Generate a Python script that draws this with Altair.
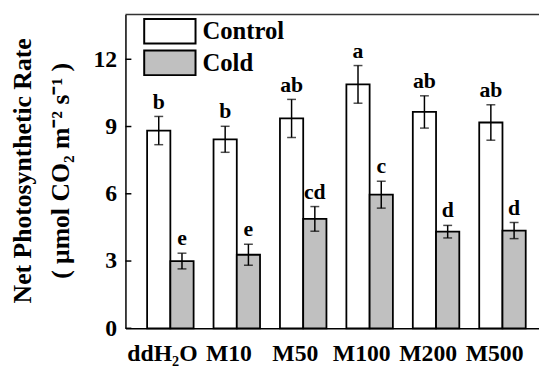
import altair as alt
import pandas as pd

categories = ["ddH₂O", "M10", "M50", "M100", "M200", "M500"]
treatments = ["Control", "Cold"]
control_mean = [8.82, 8.43, 9.36, 10.88, 9.65, 9.18]
control_se = [0.63, 0.58, 0.85, 0.84, 0.72, 0.79]
cold_mean = [3.00, 3.28, 4.88, 5.96, 4.31, 4.36]
cold_se = [0.35, 0.47, 0.55, 0.60, 0.28, 0.36]
control_letters = ["b", "b", "ab", "a", "ab", "ab"]
cold_letters = ["e", "e", "cd", "c", "d", "d"]
y_ticks = [0, 3, 6, 9, 12]
y_max = 14

rows = []
for i, c in enumerate(categories):
    rows.append(dict(cat=c, trt="Control", mean=control_mean[i], se=control_se[i], letter=control_letters[i]))
    rows.append(dict(cat=c, trt="Cold", mean=cold_mean[i], se=cold_se[i], letter=cold_letters[i]))
df = pd.DataFrame(rows)
df["lo"] = df["mean"] - df["se"]
df["hi"] = df["mean"] + df["se"]
caps = pd.concat([df.assign(v=df["lo"]), df.assign(v=df["hi"])])
cat_df = pd.DataFrame({"cat": categories})

FONT = "Liberation Serif"
W, H = 419, 318

xs = alt.Scale(paddingInner=0.3, paddingOuter=0.263, align=0.62)
x_axis = alt.Axis(title=None, labels=False, ticks=False,
                  domainColor="black", domainWidth=1.5, grid=False)
xo = alt.XOffset("trt:N", sort=treatments, scale=alt.Scale(domain=treatments, paddingInner=0, paddingOuter=0))
ys = alt.Scale(domain=[0, y_max], nice=False, zero=True)

y_axis = alt.Axis(values=y_ticks, ticks=False, grid=False, labelPadding=9, labelFont=FONT,
                  labelFontSize=24, labelFontWeight="bold", labelColor="black",
                  domainColor="black", domainWidth=1.5,
                  title=["Net Photosynthetic Rate", "( μmol CO₂ m⁻² s⁻¹ )"],
                  titleFont=FONT, titleFontSize=26, titleFontWeight="bold", titleColor="black",
                  titleAngle=270, titleX=-96, titleY=158, titleAlign="center",
                  titleBaseline="alphabetic", titleLineHeight=38)


def X():
    return alt.X("cat:N", sort=categories, scale=xs)


def Y(field):
    return alt.Y(field, scale=ys)


legend = alt.Legend(title=None, orient="none", legendX=31, legendY=3,
                    symbolType="M-2,-0.96H2V0.96H-2Z", symbolSize=676,
                    symbolStrokeColor="black", symbolStrokeWidth=2,
                    labelFont=FONT, labelFontSize=25, labelFontWeight="bold",
                    labelColor="black", labelOffset=19, rowPadding=-2)

bars = alt.Chart(df).mark_bar(stroke="black", strokeWidth=1.8).encode(
    x=alt.X("cat:N", sort=categories, scale=xs, axis=x_axis), xOffset=xo,
    y=alt.Y("mean:Q", scale=ys, axis=y_axis),
    fill=alt.Fill("trt:N", sort=treatments,
                  scale=alt.Scale(domain=treatments, range=["white", "#c0c0c0"]), legend=legend),
)

err = alt.Chart(df).mark_rule(color="black", strokeWidth=1.5).encode(
    x=X(), xOffset=xo, y=Y("lo:Q"), y2="hi:Q")

cap = alt.Chart(caps).mark_tick(color="black", thickness=1.5, size=9, orient="horizontal").encode(
    x=X(), xOffset=xo, y=Y("v:Q"))

letters = alt.Chart(df).mark_text(font=FONT, fontSize=22, fontWeight="bold", baseline="bottom",
                                  dy=-3, color="black").encode(
    x=X(), xOffset=xo, y=Y("hi:Q"), text="letter:N")

xlabels = alt.Chart(cat_df).mark_text(font=FONT, fontSize=24, fontWeight="bold", color="black",
                                      align="center", baseline="middle",
                                      xOffset=-8, yOffset=26).encode(
    x=X(), y=alt.Y(datum=0, scale=ys), text="cat:N")

ticks = alt.Chart(pd.DataFrame({"v": y_ticks})).mark_rule(color="black", strokeWidth=1.5).encode(
    y=Y("v:Q"), x=alt.value(0), x2=alt.value(6))

top = alt.Chart(pd.DataFrame({"v": [y_max]})).mark_rule(color="#333333", strokeWidth=1.5).encode(
    y=Y("v:Q"), x=alt.value(0), x2=alt.value(W))

chart = alt.layer(bars, err, cap, letters, xlabels, ticks, top).properties(
    width=W, height=H,
    autosize=alt.AutoSizeParams(type="none"),
    padding={"left": 119, "top": 4, "right": 0, "bottom": 60},
).configure_view(stroke=None)

chart.save("out.html", embed_options={"renderer": "svg", "actions": False})
